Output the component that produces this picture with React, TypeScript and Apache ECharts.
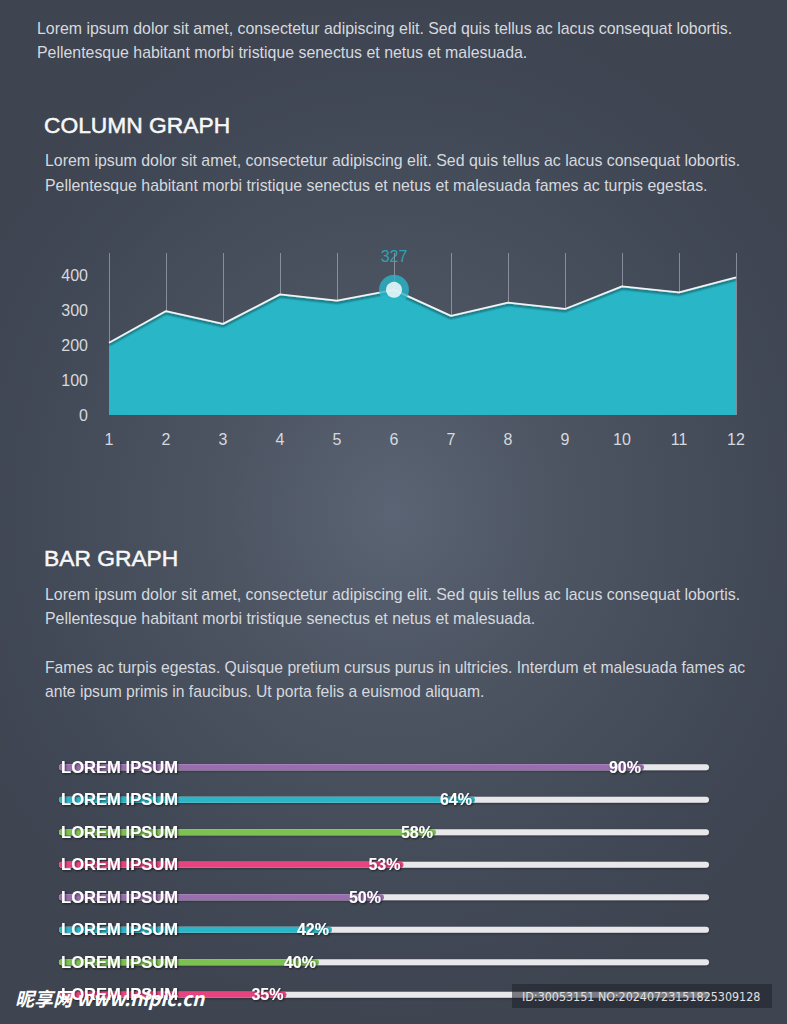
import React, { useEffect, useRef } from "react";
import * as echarts from "echarts";

// ---- Column (area) graph data ----
const months = ["1", "2", "3", "4", "5", "6", "7", "8", "9", "10", "11", "12"];
const areaValues = [208, 299, 262, 347, 329, 360, 285, 323, 305, 370, 353, 396];
const peakIndex = 5;
const peakLabel = "327";
const yTicks = [0, 100, 200, 300, 400];

// ---- Bar graph data ----
const barNames = [
  "LOREM IPSUM", "LOREM IPSUM", "LOREM IPSUM", "LOREM IPSUM",
  "LOREM IPSUM", "LOREM IPSUM", "LOREM IPSUM", "LOREM IPSUM",
];
const barValues = [90, 64, 58, 53, 50, 42, 40, 35];
const barColors = ["#9a6db0", "#29b6c9", "#7dc153", "#e5447f", "#9a6db0", "#29b6c9", "#7dc153", "#e5447f"];

// ---- Texts ----
const introLines = [
  "Lorem ipsum dolor sit amet, consectetur adipiscing elit. Sed quis tellus ac lacus consequat lobortis.",
  "Pellentesque habitant morbi tristique senectus et netus et malesuada.",
];
const columnTitle = "COLUMN GRAPH";
const columnLines = [
  "Lorem ipsum dolor sit amet, consectetur adipiscing elit. Sed quis tellus ac lacus consequat lobortis.",
  "Pellentesque habitant morbi tristique senectus et netus et malesuada fames ac turpis egestas.",
];
const barTitle = "BAR GRAPH";
const barLines1 = [
  "Lorem ipsum dolor sit amet, consectetur adipiscing elit. Sed quis tellus ac lacus consequat lobortis.",
  "Pellentesque habitant morbi tristique senectus et netus et malesuada.",
];
const barLines2 = [
  "Fames ac turpis egestas. Quisque pretium cursus purus in ultricies. Interdum et malesuada fames ac",
  "ante ipsum primis in faucibus. Ut porta felis a euismod aliquam.",
];
const watermarkLeft = "昵享网 www.nipic.cn";
const watermarkRight = "ID:30053151 NO:20240723151825309128";

const FONT = "'Liberation Sans', Arial, Helvetica, sans-serif";
const BODY = "#d6d9de";
const TEAL = "#29b7c8";

function textEl(text: string, x: number, y: number, size: number, fill: string, stroke = 0) {
  return {
    type: "text",
    x,
    y,
    z: 20,
    style: {
      text,
      fill,
      fontSize: size,
      fontFamily: FONT,
      verticalAlign: "middle",
      align: "left",
      stroke: stroke ? fill : undefined,
      lineWidth: stroke,
    },
  };
}

export default function App() {
  const ref = useRef<HTMLDivElement>(null);
  useEffect(() => {
    document.body.style.margin = "0";
    if (!ref.current) return;
    const chart = echarts.init(ref.current, undefined, { renderer: "svg" });

    const graphics: any[] = [
      textEl(introLines[0], 37, 28, 15.9, BODY),
      textEl(introLines[1], 37, 52, 15.9, BODY),
      textEl(columnTitle, 44, 125, 22.8, "#f7f7f7", 0.5),
      textEl(columnLines[0], 45, 160, 15.9, BODY),
      textEl(columnLines[1], 45, 185, 15.9, BODY),
      textEl(barTitle, 44, 558, 22.8, "#f7f7f7", 0.5),
      textEl(barLines1[0], 45, 594, 15.9, BODY),
      textEl(barLines1[1], 45, 618, 15.9, BODY),
      textEl(barLines2[0], 45, 667, 15.7, BODY),
      textEl(barLines2[1], 45, 691, 15.7, BODY),
      {
        type: "rect",
        z: 30,
        shape: { x: 512, y: 984, width: 260, height: 24 },
        style: { fill: "rgba(30,33,40,0.55)" },
      },
      {
        type: "text",
        x: 522,
        y: 996,
        z: 31,
        style: {
          text: watermarkRight,
          fill: "#e0e0e0",
          fontSize: 12.4,
          fontFamily: "'DejaVu Sans Condensed', 'Liberation Sans Narrow', sans-serif",
          verticalAlign: "middle",
        },
      },
      {
        type: "text",
        x: 15,
        y: 997,
        z: 31,
        style: {
          text: watermarkLeft,
          fill: "#ffffff",
          fontSize: 19,
          fontStyle: "italic",
          fontWeight: "bold",
          fontFamily: "'Noto Sans CJK SC', sans-serif",
          verticalAlign: "middle",
        },
      },
    ];

    chart.setOption({
      animation: false,
      backgroundColor: "transparent",
      graphic: graphics,
      grid: [
        { left: 109, right: 51, top: 253, bottom: 609 },
        { left: 59, right: 78, top: 751, bottom: 13 },
      ],
      xAxis: [
        {
          type: "category",
          gridIndex: 0,
          data: months,
          boundaryGap: false,
          axisLine: { show: false },
          axisTick: { show: false },
          axisLabel: { color: BODY, fontSize: 16, fontFamily: FONT, margin: 16 },
          splitLine: { show: true, lineStyle: { color: "rgba(190,195,205,0.55)", width: 1 } },
        },
        {
          type: "value",
          gridIndex: 1,
          min: 0,
          max: 100,
          show: false,
        },
      ],
      yAxis: [
        {
          type: "value",
          gridIndex: 0,
          min: 0,
          max: 466,
          interval: 100,
          axisLine: { show: false },
          axisTick: { show: false },
          splitLine: { show: false },
          axisLabel: {
            color: BODY,
            fontSize: 16,
            fontFamily: FONT,
            margin: 21,
            formatter: (v: number) => (yTicks.includes(v) ? String(v) : ""),
          },
        },
        {
          type: "category",
          gridIndex: 1,
          inverse: true,
          data: barNames,
          z: 10,
          axisLine: { show: false },
          axisTick: { show: false },
          axisLabel: {
            inside: true,
            margin: 2,
            color: "#ffffff",
            fontSize: 16.6,
            fontWeight: "bold",
            fontFamily: FONT,
            textShadowColor: "rgba(0,0,0,0.6)",
            textShadowBlur: 2,
            textShadowOffsetX: 1,
            textShadowOffsetY: 1,
          },
        },
      ],
      series: [
        {
          type: "line",
          xAxisIndex: 0,
          yAxisIndex: 0,
          data: areaValues,
          symbol: "none",
          lineStyle: {
            color: "#f2f2f2",
            width: 1.8,
            shadowColor: "rgba(0,0,0,0.55)",
            shadowBlur: 2,
            shadowOffsetY: 2,
          },
          areaStyle: { color: TEAL, opacity: 1 },
          z: 2,
        },
        {
          type: "scatter",
          xAxisIndex: 0,
          yAxisIndex: 0,
          data: [[peakIndex, areaValues[peakIndex]]],
          symbolSize: 30,
          itemStyle: { color: TEAL },
          label: {
            show: true,
            position: "top",
            distance: 10,
            formatter: () => peakLabel,
            color: TEAL,
            fontSize: 16,
            fontFamily: FONT,
          },
          z: 3,
        },
        {
          type: "scatter",
          xAxisIndex: 0,
          yAxisIndex: 0,
          data: [[peakIndex, areaValues[peakIndex]]],
          symbolSize: 16,
          itemStyle: { color: "#ffffff" },
          z: 4,
        },
        {
          type: "bar",
          xAxisIndex: 1,
          yAxisIndex: 1,
          data: barValues.map(() => 100),
          barWidth: 6,
          barGap: "-100%",
          itemStyle: {
            color: "#e8e8ea",
            borderRadius: 3,
            shadowColor: "rgba(0,0,0,0.35)",
            shadowBlur: 2,
            shadowOffsetY: 1,
          },
          silent: true,
          z: 2,
        },
        {
          type: "bar",
          xAxisIndex: 1,
          yAxisIndex: 1,
          data: barValues.map((v, i) => ({ value: v, itemStyle: { color: barColors[i] } })),
          barWidth: 6,
          barGap: "-100%",
          itemStyle: { borderRadius: 3 },
          label: {
            show: true,
            position: "insideRight",
            distance: 3,
            formatter: (p: any) => p.value + "%",
            color: "#ffffff",
            fontSize: 16,
            fontWeight: "bold",
            fontFamily: FONT,
            textShadowColor: "rgba(0,0,0,0.6)",
            textShadowBlur: 2,
            textShadowOffsetX: 1,
            textShadowOffsetY: 1,
          },
          z: 3,
        },
      ],
    });
    return () => chart.dispose();
  }, []);

  return (
    <div
      style={{
        position: "relative",
        width: 787,
        height: 1024,
        overflow: "hidden",
        background:
          "radial-gradient(ellipse 60% 50% at 50% 50%, #5b6474 0%, #4d5563 35%, #424957 75%, #3e4450 100%)",
      }}
    >
      <div ref={ref} style={{ width: 787, height: 1024 }} />
    </div>
  );
}
